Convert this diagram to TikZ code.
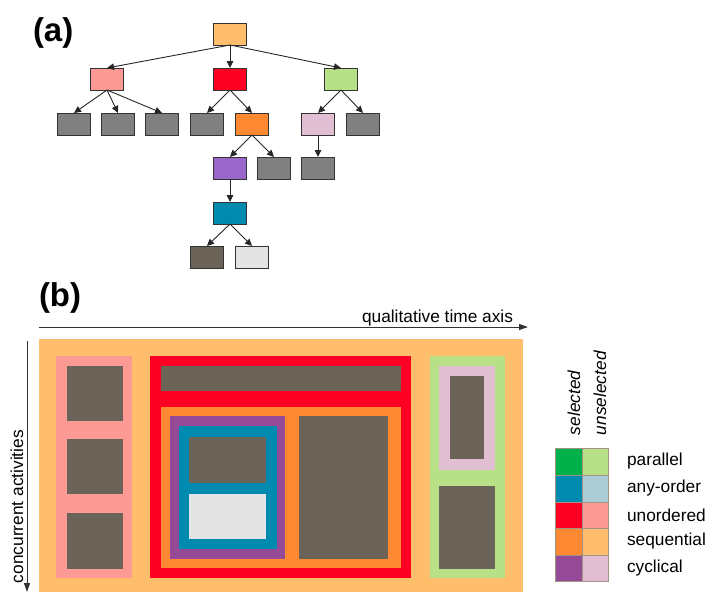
\documentclass[tikz,border=0pt]{standalone}
\usepackage{fontspec}
\setmainfont{Liberation Sans}
\usetikzlibrary{arrows.meta}
\definecolor{seqS}{HTML}{FF8833}
\definecolor{seqU}{HTML}{FFBE6C}
\definecolor{unoS}{HTML}{FF0025}
\definecolor{unoU}{HTML}{FC9A93}
\definecolor{parS}{HTML}{00B04A}
\definecolor{parU}{HTML}{B8E086}
\definecolor{anyS}{HTML}{008AB0}
\definecolor{anyU}{HTML}{AACDD6}
\definecolor{cycS}{HTML}{944A96}
\definecolor{cycU}{HTML}{E2BED3}
\definecolor{cycT}{HTML}{9966CC}
\definecolor{leafT}{HTML}{808080}
\definecolor{actD}{HTML}{6B6358}
\definecolor{actL}{HTML}{E4E4E4}
\definecolor{cellB}{HTML}{A09284}
\begin{document}
\begin{tikzpicture}[x=1pt,y=-1pt,inner sep=0pt,outer sep=0pt,
task/.style={draw=black!80,line width=0.9pt,rectangle,minimum width=33pt,minimum height=22pt},
arr/.style={-{Triangle[length=7pt,width=6.5pt]},line width=0.9pt,black!85},
axis/.style={-{Triangle[length=9pt,width=6pt]},line width=1pt,black!80},
cell/.style={draw=cellB,line width=1pt},
lbl/.style={font=\fontsize{17.3}{20}\selectfont},
tag/.style={font=\fontsize{33}{36}\selectfont\bfseries,anchor=base west}]
\useasboundingbox (0,0) rectangle (708,592);
% (a) task tree
\draw (33,41) node[tag] (taga) {(a)};
\draw (230,34) node[task,fill=seqU] (root) {};
\draw (107,79) node[task,fill=unoU] (uno) {};
\draw (230,79) node[task,fill=unoS] (unosel) {};
\draw (341,79) node[task,fill=parU] (par) {};
\draw (74,124) node[task,fill=leafT] (l1) {};
\draw (118,124) node[task,fill=leafT] (l2) {};
\draw (162,124) node[task,fill=leafT] (l3) {};
\draw (207,124) node[task,fill=leafT] (l4) {};
\draw (252,124) node[task,fill=seqS] (seq) {};
\draw (318,124) node[task,fill=cycU] (cyc) {};
\draw (363,124) node[task,fill=leafT] (l5) {};
\draw (230,168) node[task,fill=cycT] (cycsel) {};
\draw (274,168) node[task,fill=leafT] (l6) {};
\draw (318,168) node[task,fill=leafT] (l7) {};
\draw (230,213) node[task,fill=anyS] (any) {};
\draw (207,257) node[task,fill=actD] (act1) {};
\draw (252,257) node[task,fill=actL] (act2) {};
\draw[arr] (root.south) -- (uno.north);
\draw[arr] (root.south) -- (unosel.north);
\draw[arr] (root.south) -- (par.north);
\draw[arr] (uno.south) -- (l1.north);
\draw[arr] (uno.south) -- (l2.north);
\draw[arr] (uno.south) -- (l3.north);
\draw[arr] (unosel.south) -- (l4.north);
\draw[arr] (unosel.south) -- (seq.north);
\draw[arr] (par.south) -- (cyc.north);
\draw[arr] (par.south) -- (l5.north);
\draw[arr] (seq.south) -- (cycsel.north);
\draw[arr] (seq.south) -- (l6.north);
\draw[arr] (cyc.south) -- (l7.north);
\draw[arr] (cycsel.south) -- (any.north);
\draw[arr] (any.south) -- (act1.north);
\draw[arr] (any.south) -- (act2.north);
% (b) nested blocks
\draw (39,306) node[tag] (tagb) {(b)};
\coordinate (t0) at (39,327);
\coordinate (t1) at (528,327);
\draw[axis] (t0) -- (t1);
\draw (513,322) node[lbl,anchor=base east] (tlab) {qualitative time axis};
\coordinate (c0) at (27,341);
\coordinate (c1) at (27,592);
\draw[axis] (c0) -- (c1);
\draw (23,583) node[lbl,rotate=90,anchor=base west] (clab) {concurrent activities};
\fill[seqU] (39,339) rectangle (523,592);
\fill[unoU] (56,356) rectangle (132,578);
\fill[actD] (67,366) rectangle (123,421);
\fill[actD] (67,439) rectangle (123,494);
\fill[actD] (67,513) rectangle (123,569);
\fill[unoS] (150,356) rectangle (411,578);
\fill[actD] (161,366) rectangle (401,391);
\fill[seqS] (161,407) rectangle (401,568);
\fill[cycS] (170,416) rectangle (285,559);
\fill[anyS] (179,426) rectangle (277,549);
\fill[actD] (189,437) rectangle (266,483);
\fill[actL] (189,494) rectangle (266,539);
\fill[actD] (299,416) rectangle (388,559);
\fill[parU] (430,356) rectangle (505,578);
\fill[cycU] (439,366) rectangle (495,470);
\fill[actD] (450,376) rectangle (484,459);
\fill[actD] (439,486) rectangle (495,569);
% legend
\draw (580,435) node[rotate=90,anchor=base west,font=\fontsize{17.3}{20}\selectfont\itshape] (sel) {selected};
\draw (606,435) node[rotate=90,anchor=base west,font=\fontsize{17.3}{20}\selectfont\itshape] (unsel) {unselected};
\filldraw[cell,fill=parS] (555,448) rectangle (582,475);
\filldraw[cell,fill=parU] (582,448) rectangle (608,475);
\filldraw[cell,fill=anyS] (555,475) rectangle (582,502);
\filldraw[cell,fill=anyU] (582,475) rectangle (608,502);
\filldraw[cell,fill=unoS] (555,502) rectangle (582,528);
\filldraw[cell,fill=unoU] (582,502) rectangle (608,528);
\filldraw[cell,fill=seqS] (555,528) rectangle (582,555);
\filldraw[cell,fill=seqU] (582,528) rectangle (608,555);
\filldraw[cell,fill=cycS] (555,555) rectangle (582,581);
\filldraw[cell,fill=cycU] (582,555) rectangle (608,581);
\draw (627,461.5) node[lbl,anchor=west] (kpar) {parallel};
\draw (627,488.5) node[lbl,anchor=west] (kany) {any-order};
\draw (627,515) node[lbl,anchor=west] (kuno) {unordered};
\draw (627,541.5) node[lbl,anchor=west] (kseq) {sequential};
\draw (627,568) node[lbl,anchor=west] (kcyc) {cyclical};
\end{tikzpicture}
\end{document}
